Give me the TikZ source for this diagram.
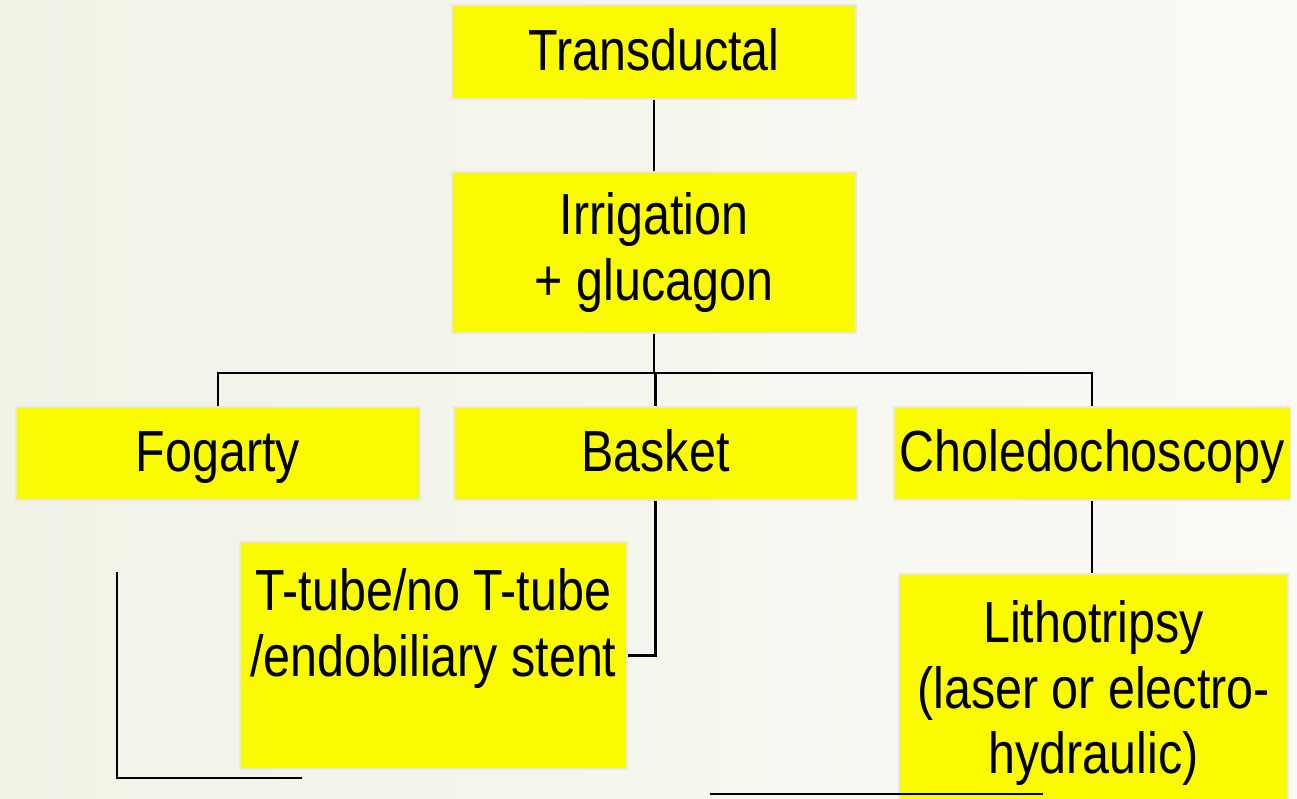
\documentclass[tikz,border=0pt]{standalone}
\usepackage{fontspec}
\setmainfont[FakeStretch=0.835]{Liberation Sans}
\usepackage{xcolor}
\usepackage{tikz}
\usetikzlibrary{positioning, calc}
\definecolor{boxyellow}{HTML}{FBFB00}
\definecolor{boxedge}{HTML}{E9E9E1}
\definecolor{bgleft}{HTML}{F0F3E6}
\definecolor{bgright}{HTML}{FAFAF6}

\begin{document}
\begin{tikzpicture}[x=0.02cm, y=-0.02cm,
        box/.style={draw=boxedge, line width=1.1pt, fill=boxyellow, inner sep=0pt,
            minimum width=8.08cm, minimum height=1.87cm, align=center,
            font=\fontsize{33}{37.5}\selectfont},
        oneline/.style={text height=24pt, text depth=3pt},
        link/.style={line width=1.2pt, black}]
        \useasboundingbox (0,0) rectangle (1297,798);
        \fill[left color=bgleft, right color=bgright] (0,0) rectangle (1297,798);

        \node[box, oneline] at (654, 52)     (trans)  {Transductal};
        \node[box, minimum height=3.22cm] at (654, 252.5) (irrig) {Irrigation\\+ glucagon};
        \node[box, oneline] at (218, 453.5)  (fog)    {Fogarty};
        \node[box, oneline, minimum width=8.06cm] at (655.5, 453.5) (basket) {Basket};
        \node[box, oneline, minimum width=7.94cm] at (1092, 453.5) (chol) {Choledochoscopy};
        \node[box, minimum width=7.74cm, minimum height=4.54cm] at (433.5, 655.5) (ttube)
            {T-tube/no T-tube\\/endobiliary stent\\~};
        \node[box, minimum width=7.78cm, minimum height=4.76cm] at (1093.5, 693) (litho)
            {Lithotripsy\\(laser or electro-\\hydraulic)};

        \coordinate (bus) at (654, 373);
        \coordinate (ela) at (117, 572);
        \coordinate (elb) at (117, 778);
        \coordinate (elc) at (302, 778);
        \coordinate (bla) at (710, 794);
        \coordinate (blb) at (1043, 794);

        \draw [link] (trans) -- (irrig);
        \draw [link] (irrig.south) -- (bus);
        \draw [link] (fog.north) |- (bus) -| (chol.north);
        \draw [link] (basket.north) -- (basket.north |- bus);
        \draw [link] (basket.south) |- (ttube.east);
        \draw [link] (chol.south) -- (chol.south |- litho.north);
        \draw [link] (ela) -- (elb) -- (elc);
        \draw [link] (bla) -- (blb);
    \end{tikzpicture}
\end{document}
